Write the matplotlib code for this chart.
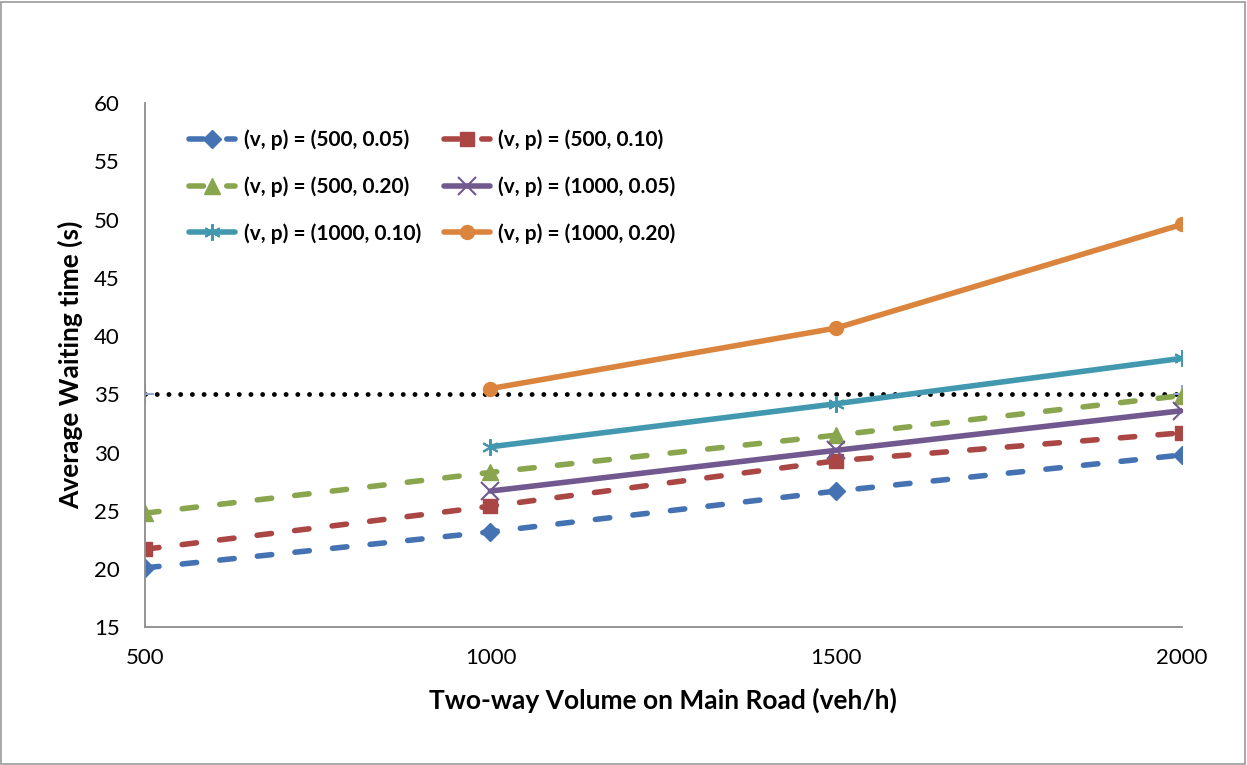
import matplotlib
matplotlib.use("Agg")
import matplotlib.pyplot as plt
from matplotlib.patches import Rectangle

plt.rcParams['font.family'] = ['Lato', 'DejaVu Sans']

volumes = [500, 1000, 1500, 2000]
labels = ["(v, p) = (500, 0.05)", "(v, p) = (500, 0.10)", "(v, p) = (500, 0.20)",
          "(v, p) = (1000, 0.05)", "(v, p) = (1000, 0.10)", "(v, p) = (1000, 0.20)"]
s_500_005 = [20.1, 23.2, 26.7, 29.8]
s_500_010 = [21.7, 25.4, 29.3, 31.7]
s_500_020 = [24.8, 28.3, 31.5, 34.9]
vol_1000 = [1000, 1500, 2000]
s_1000_005 = [26.7, 30.2, 33.6]
s_1000_010 = [30.5, 34.2, 38.1]
s_1000_020 = [35.5, 40.7, 49.6]
threshold_x = [500, 2000]
threshold_y = [35, 35]

fig = plt.figure(figsize=(12.47, 7.65), dpi=100)
fig.patches.append(Rectangle((0.001, 0.001), 0.997, 0.997, transform=fig.transFigure,
                             fill=False, edgecolor='#9a9a9a', linewidth=1.2))
ax = fig.add_axes([0.116, 0.18, 0.832, 0.685])

lw = 4.0
dash = (0, (2.6, 4.2))
ax.plot(threshold_x, threshold_y, color='black', linestyle=(0, (0.01, 2.4)), dash_capstyle='round',
        linewidth=3.5, zorder=1)
ax.plot(threshold_x, threshold_y, linestyle='none', marker='+', markersize=13,
        color='#8fa8d8', markeredgewidth=1.5, zorder=1)

common = dict(linewidth=lw, dash_capstyle='round', solid_capstyle='round')
h = []
h += ax.plot(volumes, s_500_005, color='#4572b2', linestyle=dash, marker='D',
             markersize=9, label=labels[0], **common)
h += ax.plot(volumes, s_500_010, color='#aa4643', linestyle=dash, marker='s',
             markersize=10, label=labels[1], **common)
h += ax.plot(volumes, s_500_020, color='#89a54e', linestyle=dash, marker='^',
             markersize=11, label=labels[2], **common)
h += ax.plot(vol_1000, s_1000_005, color='#71588f', linestyle='-', marker='x',
             markersize=13, markeredgewidth=1.5, label=labels[3], **common)
h += ax.plot(vol_1000, s_1000_010, color='#4198af', linestyle='-', marker=(6, 2, 0),
             markersize=12, markeredgewidth=1.5, label=labels[4], **common)
h += ax.plot(vol_1000, s_1000_020, color='#db843d', linestyle='-', marker='o',
             markersize=10, label=labels[5], **common)

ax.set_xlim(500, 2000)
ax.set_ylim(15, 60)
ax.set_xticks(volumes)
ax.set_yticks(range(15, 61, 5))
ax.tick_params(length=0, labelsize=16)
ax.tick_params(axis='y', pad=18)
ax.tick_params(axis='x', pad=15)
for s in ['top', 'right']:
    ax.spines[s].set_visible(False)
for s in ['left', 'bottom']:
    ax.spines[s].set_color('#8c8c8c')
    ax.spines[s].set_linewidth(1.3)

ax.set_xlabel('Two-way Volume on Main Road (veh/h)', fontsize=19, fontweight='bold', labelpad=14)
ax.set_ylabel('Average Waiting time (s)', fontsize=19, fontweight='bold', labelpad=8)

order = [0, 2, 4, 1, 3, 5]
leg = ax.legend([h[i] for i in order], [labels[i] for i in order],
                loc='upper left', bbox_to_anchor=(0.025, 0.985), ncol=2, frameon=False,
                prop={'weight': 'bold', 'size': 15}, handlelength=2.2,
                columnspacing=1.1, labelspacing=1.25, handletextpad=0.4)

fig.savefig('out.png', dpi=100)
